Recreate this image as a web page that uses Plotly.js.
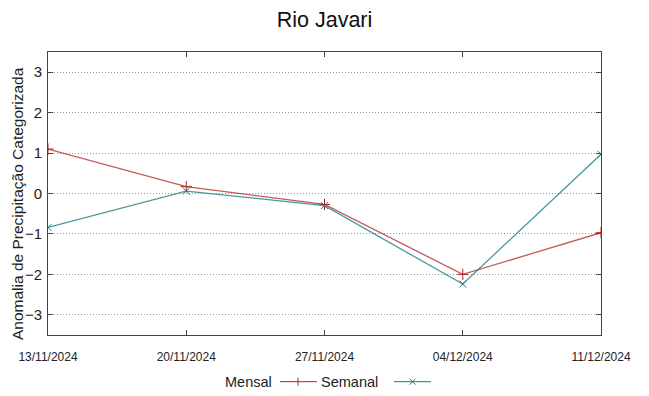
<!DOCTYPE html>
<html>
<head>
<meta charset="utf-8">
<script src="https://cdn.plot.ly/plotly-3.0.1.min.js"></script>
<style>html,body{margin:0;padding:0;background:#fff}#chart{width:649px;height:396px}</style>
</head>
<body>
<div id="chart"></div>
<script>
const dates = ["13/11/2024", "20/11/2024", "27/11/2024", "04/12/2024", "11/12/2024"];
const mensal = [1.1, 0.17, -0.27, -2.0, -0.97];
const semanal = [-0.84, 0.06, -0.3, -2.24, 0.97];
const seriesNames = ["Mensal", "Semanal"];
const yTitle = "Anomalia de Precipitação Categorizada";

const red = "#b22222", redLine = "rgba(178,34,34,0.75)";
const teal = "#1a7f7f", tealLine = "rgba(26,127,127,0.8)";
const font = "Liberation Sans, Arial, sans-serif";

const traces = [
  {x: dates, y: mensal, name: seriesNames[0], type: "scatter", mode: "lines+markers",
   line: {color: redLine, width: 1.3},
   marker: {symbol: "cross-thin", size: 8, color: red, line: {color: red, width: 1}}},
  {x: dates, y: semanal, name: seriesNames[1], type: "scatter", mode: "lines+markers",
   line: {color: tealLine, width: 1.3},
   marker: {symbol: "x-thin", size: 7, color: teal, line: {color: teal, width: 1}}}
];

// manual legend (text before sample, as in the reference)
const legY = -0.165;
function seg(xa, x0, x1, y0, y1, color) {
  return {type: "line", xref: "paper", yref: "paper", xsizemode: "pixel", ysizemode: "pixel",
          xanchor: xa, yanchor: legY, x0: x0, x1: x1, y0: y0, y1: y1, line: {color: color, width: 1}};
}
const shapes = [
  {type: "line", xref: "paper", yref: "paper", x0: 0.4195, x1: 0.4864, y0: legY, y1: legY, line: {color: red, width: 1}},
  seg(0.452, 0, 0, -4, 4, red),
  {type: "line", xref: "paper", yref: "paper", x0: 0.6257, x1: 0.6926, y0: legY, y1: legY, line: {color: teal, width: 1}},
  seg(0.6591, -3, 3, -3, 3, teal),
  seg(0.6591, -3, 3, 3, -3, teal)
];
const annotations = [
  {text: seriesNames[0], xref: "paper", yref: "paper", x: 0.408, y: legY, xanchor: "right", yanchor: "middle", showarrow: false, font: {family: font, size: 14.5, color: "#222"}},
  {text: seriesNames[1], xref: "paper", yref: "paper", x: 0.601, y: legY, xanchor: "right", yanchor: "middle", showarrow: false, font: {family: font, size: 14.5, color: "#222"}},
  {text: yTitle, xref: "paper", yref: "paper", x: -0.0542, y: 0.463, textangle: -90, xanchor: "center", yanchor: "middle", showarrow: false, font: {family: font, size: 15.5, color: "#222"}}
];

const layout = {
  width: 649, height: 396,
  margin: {l: 48, r: 48, t: 52, b: 61},
  paper_bgcolor: "#fff", plot_bgcolor: "#fff",
  showlegend: false,
  title: {text: "Rio Javari", x: 0.5, xanchor: "center", y: 0.95, yanchor: "middle", font: {family: font, size: 21.5, color: "#111"}},
  xaxis: {type: "category", range: [0, 4], showgrid: false, zeroline: false,
          showline: true, linecolor: "#444", linewidth: 1, mirror: "ticks",
          ticks: "inside", ticklen: 5, tickcolor: "#444", ticklabelstandoff: 11,
          tickfont: {family: font, size: 12, color: "#222"}},
  yaxis: {range: [-3.5, 3.5], dtick: 1, tick0: 0,
          showgrid: true, gridcolor: "#999", griddash: "1px,2px", gridwidth: 1, zeroline: false,
          showline: true, linecolor: "#444", linewidth: 1, mirror: "ticks",
          ticks: "inside", ticklen: 5, tickcolor: "#444", ticklabelstandoff: 2,
          tickfont: {family: font, size: 15, color: "#222"}},
  shapes: shapes,
  annotations: annotations
};

Plotly.newPlot("chart", traces, layout, {displayModeBar: false, staticPlot: true});
</script>
</body>
</html>
